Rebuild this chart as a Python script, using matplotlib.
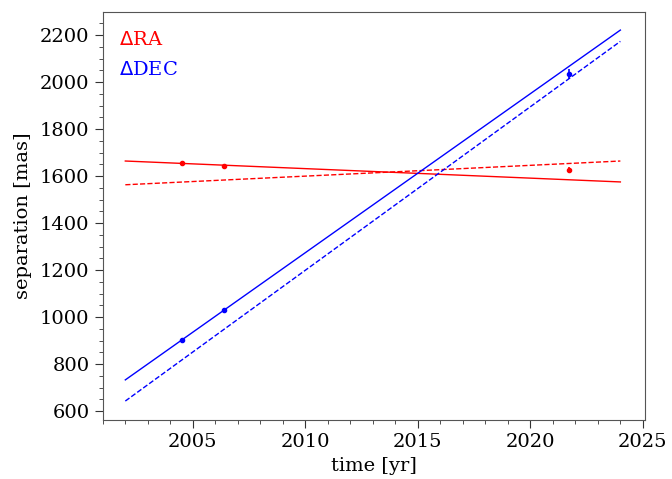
import matplotlib
matplotlib.use("Agg")
import matplotlib.pyplot as plt
import numpy as np
from matplotlib.ticker import MultipleLocator

plt.rcParams['font.family'] = 'DejaVu Serif'
plt.rcParams['font.size'] = 14

# measured epochs and separations
t_obs = [2004.5, 2006.4, 2021.7]
ra_obs = [1655, 1643, 1627]
ra_err = [6, 8, 12]
dec_obs = [903, 1030, 2034]
dec_err = [6, 10, 22]

# fitted lines (endpoints)
t_fit = [2002, 2024]
ra_fit = [1664, 1575]
ra_fit2 = [1563, 1664]
dec_fit = [733, 2221]
dec_fit2 = [643, 2173]

fig, ax = plt.subplots(figsize=(6.72, 4.79), dpi=100)
fig.subplots_adjust(left=0.153, right=0.96, top=0.975, bottom=0.123)

ax.plot(t_fit, ra_fit, color='red', lw=1)
ax.plot(t_fit, ra_fit2, color='red', lw=1, ls='--')
ax.plot(t_fit, dec_fit, color='blue', lw=1)
ax.plot(t_fit, dec_fit2, color='blue', lw=1, ls='--')
ax.errorbar(t_obs, ra_obs, yerr=ra_err, fmt='o', color='red', ms=3, elinewidth=1.2)
ax.errorbar(t_obs, dec_obs, yerr=dec_err, fmt='o', color='blue', ms=3, elinewidth=1.2)

ax.text(0.03, 0.92, r'$\Delta$RA', color='red', transform=ax.transAxes)
ax.text(0.03, 0.845, r'$\Delta$DEC', color='blue', transform=ax.transAxes)

ax.set_xlim(2001, 2025.1)
ax.set_ylim(562, 2298)
ax.xaxis.set_major_locator(MultipleLocator(5))
ax.xaxis.set_minor_locator(MultipleLocator(1))
ax.yaxis.set_major_locator(MultipleLocator(200))
ax.yaxis.set_minor_locator(MultipleLocator(50))
ax.tick_params(which='both', color='#333333')
ax.tick_params(which='major', length=6)
ax.tick_params(which='minor', length=3)
for s in ax.spines.values():
    s.set_color('#555555')

ax.set_xlabel('time [yr]')
ax.set_ylabel('separation [mas]', labelpad=6)

plt.savefig('out.png')
